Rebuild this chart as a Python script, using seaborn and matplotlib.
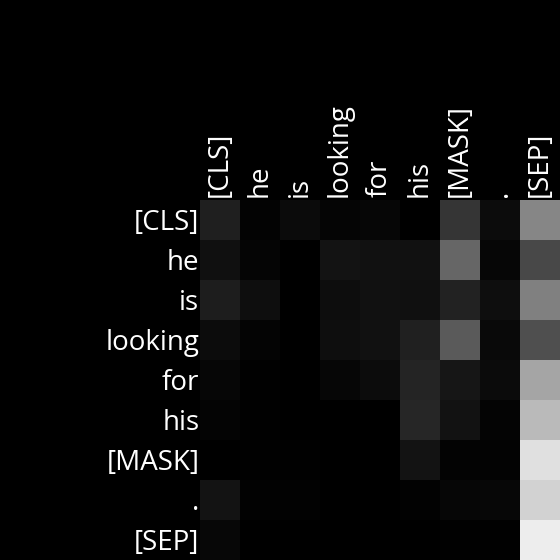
import numpy as np
import pandas as pd
import matplotlib
matplotlib.use('Agg')
import matplotlib.pyplot as plt
import matplotlib.transforms as mtrans
import seaborn as sns

tokens = ['[CLS]', 'he', 'is', 'looking', 'for', 'his', '[MASK]', '.', '[SEP]']

# attention weights (gray level / 255)
row_cls = [0.122, 0.012, 0.043, 0.020, 0.027, 0.000, 0.208, 0.047, 0.525]
row_he = [0.063, 0.020, 0.000, 0.075, 0.067, 0.067, 0.400, 0.024, 0.282]
row_is = [0.114, 0.055, 0.000, 0.051, 0.067, 0.063, 0.133, 0.055, 0.502]
row_looking = [0.047, 0.016, 0.000, 0.055, 0.067, 0.125, 0.353, 0.039, 0.310]
row_for = [0.024, 0.004, 0.000, 0.024, 0.047, 0.141, 0.086, 0.043, 0.647]
row_his = [0.016, 0.004, 0.000, 0.000, 0.000, 0.149, 0.071, 0.016, 0.729]
row_mask = [0.000, 0.004, 0.004, 0.000, 0.000, 0.075, 0.012, 0.012, 0.878]
row_dot = [0.075, 0.008, 0.008, 0.000, 0.000, 0.008, 0.024, 0.031, 0.824]
row_sep = [0.031, 0.000, 0.000, 0.000, 0.000, 0.000, 0.004, 0.004, 0.929]

df = pd.DataFrame([row_cls, row_he, row_is, row_looking, row_for,
                   row_his, row_mask, row_dot, row_sep],
                  index=tokens, columns=tokens)

fig = plt.figure(figsize=(5.6, 5.6), dpi=100, facecolor='black')
plt.rcParams['font.family'] = ['Open Sans', 'DejaVu Sans']
ax = fig.add_axes([200 / 560, 0, 360 / 560, 360 / 560])
sns.heatmap(df, cmap='gray', vmin=0, vmax=1, cbar=False, square=True, ax=ax)

ax.xaxis.tick_top()
ax.set_xticklabels(tokens, rotation=90, color='white', fontsize=20)
ax.set_yticklabels(tokens, rotation=0, color='white', fontsize=20)
ax.tick_params(axis='x', length=0, pad=2.5)
ax.tick_params(axis='y', length=0, pad=0.5)
ax.set_xlabel('')
ax.set_ylabel('')

# nudge the row labels down a little, like the original
shift = mtrans.ScaledTranslation(0, -3 / 100, fig.dpi_scale_trans)
for lbl in ax.get_yticklabels():
    lbl.set_transform(lbl.get_transform() + shift)

fig.savefig('out.png', dpi=100, facecolor='black')
